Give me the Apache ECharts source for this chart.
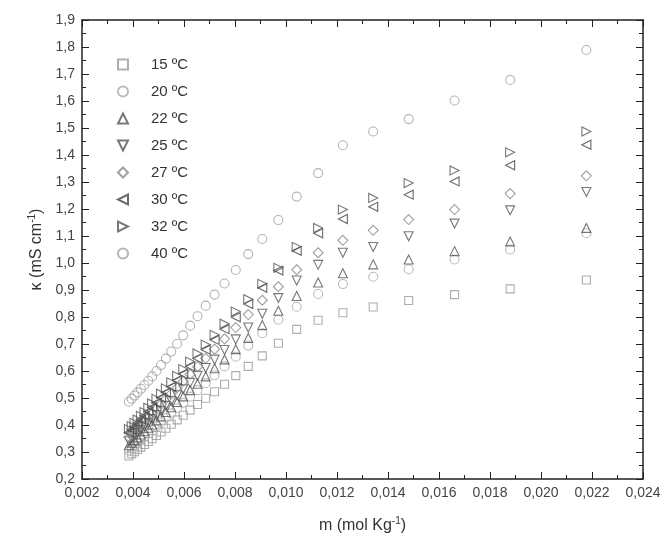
<!DOCTYPE html>
<html>
<head>
<meta charset="utf-8">
<script src="https://cdn.jsdelivr.net/npm/echarts@6/dist/echarts.min.js"></script>
<style>
html,body{margin:0;padding:0;background:#fff;}
#box{width:667px;height:550px;}
</style>
</head>
<body>
<div id="box"></div>
<script>
// molality (mol/kg), shared by all temperatures
const mValues = [0.00384, 0.00395, 0.00406, 0.00418, 0.00431, 0.00445, 0.00460, 0.00475, 0.00492, 0.00510,
    0.00529, 0.00550, 0.00573, 0.00597, 0.00624, 0.00653, 0.00685, 0.00720, 0.00759, 0.00803,
    0.00852, 0.00907, 0.00970, 0.01042, 0.01126, 0.01223, 0.01342, 0.01481, 0.01661, 0.01879, 0.02178];

// conductivity kappa (mS/cm)
const k15 = [0.285, 0.293, 0.301, 0.309, 0.318, 0.328, 0.339, 0.349, 0.361, 0.374, 0.388, 0.403, 0.419, 0.436, 0.455,
    0.476, 0.499, 0.523, 0.551, 0.583, 0.617, 0.656, 0.703, 0.754, 0.788, 0.816, 0.837, 0.861, 0.883, 0.904, 0.937];
const k20 = [0.305, 0.314, 0.323, 0.333, 0.344, 0.356, 0.368, 0.381, 0.395, 0.410, 0.426, 0.443, 0.462, 0.482, 0.505,
    0.529, 0.555, 0.584, 0.617, 0.653, 0.694, 0.740, 0.790, 0.838, 0.885, 0.922, 0.949, 0.977, 1.013, 1.050, 1.110];
const k22 = [0.325, 0.334, 0.344, 0.354, 0.365, 0.377, 0.390, 0.402, 0.417, 0.432, 0.448, 0.466, 0.485, 0.506, 0.529,
    0.553, 0.580, 0.610, 0.643, 0.681, 0.722, 0.770, 0.823, 0.878, 0.928, 0.962, 0.995, 1.013, 1.044, 1.080, 1.130];
const k25 = [0.340, 0.350, 0.360, 0.371, 0.382, 0.395, 0.408, 0.422, 0.437, 0.453, 0.471, 0.489, 0.510, 0.532, 0.556,
    0.582, 0.611, 0.642, 0.678, 0.717, 0.761, 0.812, 0.870, 0.935, 0.993, 1.038, 1.059, 1.099, 1.146, 1.195, 1.263];
const k27 = [0.355, 0.366, 0.376, 0.388, 0.401, 0.414, 0.429, 0.443, 0.460, 0.477, 0.496, 0.516, 0.538, 0.562, 0.588,
    0.616, 0.647, 0.681, 0.719, 0.761, 0.809, 0.862, 0.912, 0.975, 1.038, 1.084, 1.121, 1.161, 1.198, 1.257, 1.323];
const k30 = [0.372, 0.383, 0.394, 0.407, 0.420, 0.434, 0.450, 0.465, 0.482, 0.501, 0.520, 0.541, 0.565, 0.589, 0.617,
    0.646, 0.679, 0.715, 0.755, 0.799, 0.848, 0.908, 0.972, 1.045, 1.110, 1.163, 1.208, 1.253, 1.302, 1.362, 1.438];
const k32 = [0.385, 0.396, 0.408, 0.420, 0.434, 0.448, 0.464, 0.480, 0.497, 0.516, 0.536, 0.558, 0.582, 0.607, 0.635,
    0.665, 0.698, 0.734, 0.775, 0.820, 0.866, 0.923, 0.982, 1.060, 1.130, 1.198, 1.241, 1.296, 1.343, 1.410, 1.487];
const k40 = [0.486, 0.497, 0.509, 0.521, 0.534, 0.548, 0.564, 0.580, 0.600, 0.622, 0.646, 0.672, 0.701, 0.732, 0.768,
    0.803, 0.842, 0.883, 0.924, 0.974, 1.033, 1.089, 1.159, 1.246, 1.333, 1.436, 1.487, 1.533, 1.602, 1.678, 1.789];

const seriesNames = ["15 ºC", "20 ºC", "22 ºC", "25 ºC", "27 ºC", "30 ºC", "32 ºC", "40 ºC"];
const seriesData = [k15, k20, k22, k25, k27, k30, k32, k40];

// open markers: square, circle, up/down/left/right triangles, diamond
const triUp = "path://M5,0 L10,10 L0,10 Z";
const triDown = "path://M0,0 L10,0 L5,10 Z";
const triLeft = "path://M10,0 L10,10 L0,5 Z";
const triRight = "path://M0,0 L0,10 L10,5 Z";
const symbols = ["rect", "circle", triUp, triDown, "diamond", triLeft, triRight, "circle"];
const sizes = [8, 9, 9, 9, 10, 9, 9, 9];
const colors = ["#9a9a9a", "#aaaaaa", "#555555", "#555555", "#888888", "#444444", "#555555", "#a0a0a0"];

let mychart = echarts.init(document.getElementById("box"));

let fmtX = function(v){ return v.toFixed(3).replace(".", ","); };
let fmtY = function(v){ return v.toFixed(1).replace(".", ","); };

let axisFont = { fontFamily: "Liberation Sans", fontSize: 14, color: "#444" };
let nameFont = {
    fontFamily: "Liberation Sans", fontSize: 16, color: "#333",
    rich: { sup: { fontSize: 10, verticalAlign: "top", padding: [0, 0, 9, 0] } }
};
let frameLine = { show: true, onZero: false, lineStyle: { color: "#222", width: 1.5 } };
let tick = { inside: true, length: 7, lineStyle: { color: "#222" } };
let minor = { show: true, splitNumber: 2, length: 4, lineStyle: { color: "#222" } };

let series = seriesNames.map(function(name, i){
    return {
        name: name,
        type: "scatter",
        symbol: symbols[i],
        symbolSize: sizes[i],
        itemStyle: {
            color: "rgba(255,255,255,0)",
            borderColor: colors[i],
            borderWidth: 1.1
        },
        data: mValues.map(function(m, j){ return [m, seriesData[i][j]]; })
    };
});

mychart.setOption({
    backgroundColor: "#fff",
    animation: false,
    grid: { left: 82, right: 24, top: 20, bottom: 71 },
    legend: {
        orient: "vertical",
        left: 112,
        top: 52,
        itemWidth: 10,
        itemHeight: 10,
        itemGap: 12,
        data: seriesNames.map(function(name, i){ return { name: name, icon: symbols[i] }; }),
        textStyle: { fontFamily: "Liberation Sans", fontSize: 15, color: "#333", padding: [0, 0, 0, 18], lineHeight: 10 }
    },
    xAxis: [
        {
            type: "value",
            min: 0.002, max: 0.024, interval: 0.002,
            position: "bottom",
            name: "m (mol Kg{sup|-1})",
            nameLocation: "middle",
            nameGap: 37,
            nameTextStyle: nameFont,
            axisLine: frameLine,
            axisTick: tick,
            minorTick: minor,
            axisLabel: Object.assign({ formatter: fmtX, margin: 7 }, axisFont),
            splitLine: { show: false }
        },
        {
            type: "value",
            min: 0.002, max: 0.024, interval: 0.002,
            position: "top",
            axisLine: frameLine,
            axisTick: tick,
            minorTick: minor,
            axisLabel: { show: false },
            splitLine: { show: false }
        }
    ],
    yAxis: [
        {
            type: "value",
            min: 0.2, max: 1.9, interval: 0.1,
            position: "left",
            name: "κ (mS cm{sup|-1})",
            nameLocation: "middle",
            nameGap: 36,
            nameTextStyle: nameFont,
            axisLine: frameLine,
            axisTick: tick,
            minorTick: minor,
            axisLabel: Object.assign({ formatter: fmtY, margin: 7 }, axisFont),
            splitLine: { show: false }
        },
        {
            type: "value",
            min: 0.2, max: 1.9, interval: 0.1,
            position: "right",
            axisLine: frameLine,
            axisTick: tick,
            minorTick: minor,
            axisLabel: { show: false },
            splitLine: { show: false }
        }
    ],
    series: series
});
</script>
</body>
</html>
